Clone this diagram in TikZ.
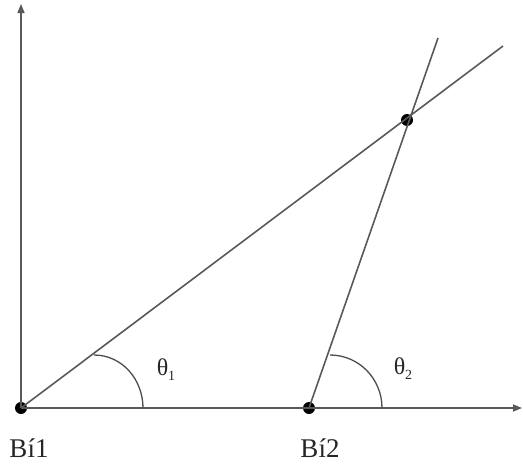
\documentclass[tikz,border=0pt]{standalone}
\usepackage{fontspec}
\setmainfont{Liberation Serif}
\usetikzlibrary{arrows.meta}
\begin{document}
\begin{tikzpicture}[x=1pt,y=-1pt,
  ln/.style={draw=black!65,line width=1.6pt},
  arc/.style={draw=black!70,line width=1.3pt},
  dot/.style={circle,fill=black,inner sep=0pt,minimum size=12pt},
  lbl/.style={font=\fontsize{27}{30}\selectfont,inner sep=0pt,text=black!85},
  ang/.style={font=\fontsize{24}{27}\selectfont,inner sep=0pt,text=black!85}]
\useasboundingbox (0,0) rectangle (523,466);
\coordinate (top) at (21,4);
\coordinate (right) at (522,408);
\coordinate (e1) at (503,46);
\coordinate (e2) at (438,38);
\node[dot] (b1) at (21,408) {};
\node[dot] (b2) at (309,408) {};
\node[dot] (p) at (407,120) {};
\draw[ln,-{Triangle[length=9pt,width=7pt]}] (b1.center) -- (top);
\draw[ln,-{Triangle[length=9pt,width=7pt]}] (b1.center) -- (right);
\draw[ln] (b1.center) -- (e1);
\draw[ln] (b2.center) -- (e2);
\draw[arc] (94,355) to[out=0,in=90] (143,408);
\draw[arc] (330,355) to[out=0,in=90] (382,408);
\node[ang] (t1) at (166,370) {θ\raisebox{-5pt}{\fontsize{14}{16}\selectfont 1}};
\node[ang] (t2) at (403,369) {θ\raisebox{-5pt}{\fontsize{14}{16}\selectfont 2}};
\node[lbl] (l1) at (29,448) {Bí1};
\node[lbl] (l2) at (320,448) {Bí2};
\end{tikzpicture}
\end{document}
